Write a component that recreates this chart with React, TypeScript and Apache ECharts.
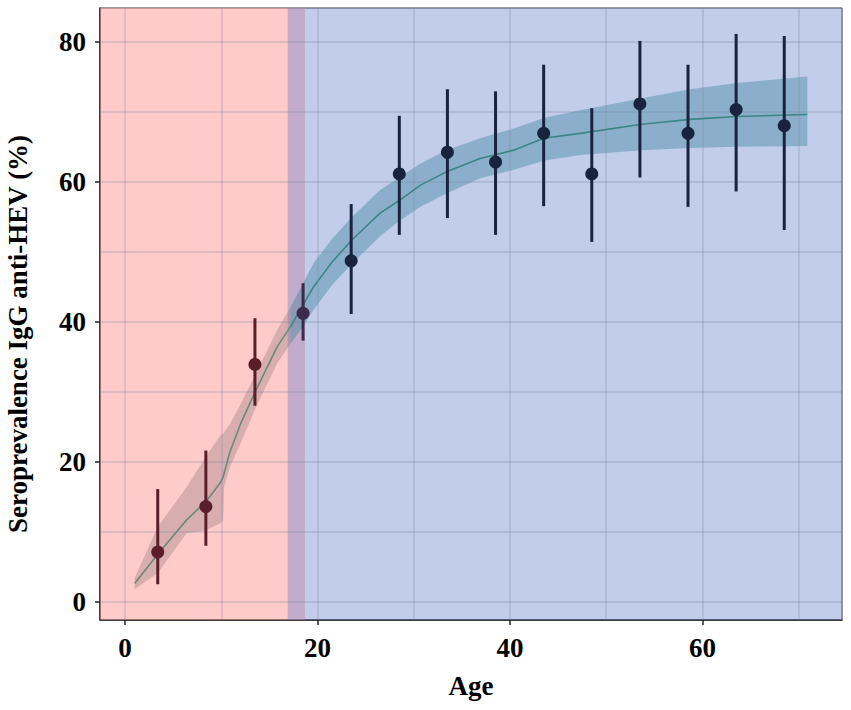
import React, { useEffect, useRef } from "react";
import * as echarts from "echarts";

// Axis ticks and grid
const xTickValues = [0, 20, 40, 60];
const yTickValues = [0, 20, 40, 60, 80];
const xGridValues = [0, 10, 20, 30, 40, 50, 60, 70];
const yGridValues = [0, 10, 20, 30, 40, 50, 60, 70, 80];
const xMin = -2.6;
const xMax = 74.5;
const yMin = -2.6;
const yMax = 84.8;

// Age periods (shaded regions)
const childEndAge = 18.7;
const adultStartAge = 16.9;

// Observed seroprevalence by age group
const groupAges = [3.4, 8.4, 13.5, 18.5, 23.5, 28.5, 33.5, 38.5, 43.5, 48.5, 53.5, 58.5, 63.5, 68.5];
const groupPrev = [7.1, 13.6, 33.9, 41.2, 48.7, 61.1, 64.2, 62.8, 66.9, 61.1, 71.1, 66.9, 70.3, 68.0];
const groupLow = [2.5, 8.0, 28.0, 37.3, 41.1, 52.4, 54.8, 52.4, 56.5, 51.4, 60.6, 56.4, 58.6, 53.1];
const groupHigh = [16.1, 21.6, 40.5, 45.5, 56.8, 69.4, 73.2, 72.9, 76.7, 70.5, 80.1, 76.7, 81.1, 80.8];

// Fitted curve with confidence band
const fitAges = [1.0, 3.4, 6.4, 8.4, 9.9, 10.2, 10.3, 10.9, 12.0, 13.6, 15.8, 17.2, 18.5, 19.6, 21.5, 23.6, 26.5, 28.6, 30.7, 33.4, 36.9, 40.4, 43.5, 47.3, 53.7, 58.7, 63.6, 70.9];
const fitValues = [2.6, 6.8, 11.7, 14.3, 17.0, 17.8, 18.4, 21.4, 25.4, 30.2, 36.4, 39.3, 42.4, 45.0, 48.5, 51.7, 55.5, 57.4, 59.5, 61.4, 63.3, 64.5, 66.2, 66.9, 68.2, 68.9, 69.3, 69.6];
const fitLow = [1.8, 4.1, 9.8, 10.2, 11.2, 11.7, 16.5, 19.2, 22.6, 27.8, 34.0, 36.9, 39.3, 41.7, 45.2, 48.3, 52.2, 54.5, 56.4, 58.3, 60.5, 61.7, 63.0, 63.8, 64.5, 64.8, 65.0, 65.1];
const fitHigh = [3.4, 10.7, 16.4, 20.7, 23.8, 24.0, 24.2, 25.4, 28.2, 32.6, 38.8, 42.1, 45.5, 48.4, 51.8, 55.0, 58.8, 60.7, 62.6, 64.5, 66.2, 67.6, 69.1, 70.2, 71.9, 73.2, 74.1, 75.0];
const splitIndex = 11; // age 17.2

const FONT = '"Liberation Serif", "Times New Roman", serif';

function pointColor(i: number) {
  const age = groupAges[i];
  if (age < adultStartAge) return "#5A1E28";
  if (age < childEndAge) return "#3E2A4A";
  return "#19233F";
}

function bandSeries(from: number, to: number, fill: string) {
  return {
    type: "custom",
    coordinateSystem: "cartesian2d",
    silent: true,
    z: 3,
    data: [[fitAges[from], fitValues[from]]],
    renderItem: (_params: any, api: any) => {
      const pts: number[][] = [];
      for (let i = from; i <= to; i++) pts.push(api.coord([fitAges[i], fitHigh[i]]));
      for (let i = to; i >= from; i--) pts.push(api.coord([fitAges[i], fitLow[i]]));
      return { type: "polygon", shape: { points: pts }, style: { fill } };
    },
  };
}

function lineSeries(from: number, to: number, color: string) {
  const data: number[][] = [];
  for (let i = from; i <= to; i++) data.push([fitAges[i], fitValues[i]]);
  return {
    type: "line",
    data,
    showSymbol: false,
    symbol: "none",
    silent: true,
    z: 4,
    lineStyle: { color, width: 1.6 },
  };
}

export default function App() {
  const ref = useRef<HTMLDivElement>(null);

  useEffect(() => {
    document.body.style.margin = "0";
    const chart = echarts.init(ref.current!, null, { renderer: "svg" });
    const labelStyle = {
      fontFamily: FONT,
      fontWeight: "bold",
      fontSize: 27,
      color: "#000",
    };
    chart.setOption({
      animation: false,
      backgroundColor: "#fff",
      grid: {
        left: 100,
        right: 9,
        top: 8,
        bottom: 90,
        show: true,
        borderColor: "#333",
        borderWidth: 1,
        backgroundColor: "transparent",
      },
      xAxis: {
        type: "value",
        min: xMin,
        max: xMax,
        name: "Age",
        nameLocation: "middle",
        nameGap: 52,
        nameTextStyle: { ...labelStyle },
        axisLine: { show: true, onZero: false, lineStyle: { color: "#222", width: 1.5 } },
        axisTick: { show: true, length: 5, customValues: xTickValues, lineStyle: { color: "#222", width: 1.5 } },
        axisLabel: { ...labelStyle, margin: 14, customValues: xTickValues },
        splitLine: { show: false },
      },
      yAxis: {
        type: "value",
        min: yMin,
        max: yMax,
        axisLine: { show: true, onZero: false, lineStyle: { color: "#222", width: 1.5 } },
        axisTick: { show: true, length: 5, customValues: yTickValues, lineStyle: { color: "#222", width: 1.5 } },
        axisLabel: { ...labelStyle, margin: 14, customValues: yTickValues },
        splitLine: { show: false },
      },
      graphic: [
        {
          type: "text",
          x: 18,
          y: 334,
          rotation: Math.PI / 2,
          style: {
            text: "Seroprevalence IgG anti-HEV (%)",
            fontFamily: FONT,
            fontWeight: "bold",
            fontSize: 27,
            fill: "#000",
            align: "center",
            verticalAlign: "middle",
          },
        },
      ],
      series: [
        {
          type: "scatter",
          data: [],
          silent: true,
          z: 1,
          markArea: {
            silent: true,
            data: [
              [
                { xAxis: xMin, itemStyle: { color: "rgba(255,150,150,0.5)" } },
                { xAxis: childEndAge },
              ],
              [
                { xAxis: adultStartAge, itemStyle: { color: "rgba(100,130,205,0.4)" } },
                { xAxis: xMax },
              ],
            ],
          },
          markLine: {
            silent: true,
            symbol: ["none", "none"],
            label: { show: false },
            lineStyle: { type: "solid", color: "rgba(120,130,160,0.25)", width: 1.8 },
            data: [
              ...xGridValues.map((v) => ({ xAxis: v })),
              ...yGridValues.map((v) => ({ yAxis: v })),
            ],
          },
        },
        bandSeries(0, splitIndex, "rgba(110,105,100,0.28)"),
        bandSeries(splitIndex, fitAges.length - 1, "rgba(40,120,140,0.35)"),
        lineSeries(0, splitIndex, "#6A8A78"),
        lineSeries(splitIndex, fitAges.length - 1, "#3A8585"),
        {
          type: "custom",
          silent: true,
          z: 5,
          data: groupAges.map((a, i) => [a, groupLow[i], groupHigh[i]]),
          encode: { x: 0, y: [1, 2] },
          renderItem: (params: any, api: any) => {
            const x = api.value(0);
            const p1 = api.coord([x, api.value(1)]);
            const p2 = api.coord([x, api.value(2)]);
            return {
              type: "line",
              shape: { x1: p1[0], y1: p1[1], x2: p2[0], y2: p2[1] },
              style: { stroke: pointColor(params.dataIndex), lineWidth: 3 },
            };
          },
        },
        {
          type: "scatter",
          silent: true,
          z: 6,
          symbolSize: 13,
          data: groupAges.map((a, i) => [a, groupPrev[i]]),
          itemStyle: { color: (p: any) => pointColor(p.dataIndex), opacity: 1 },
        },
      ],
    });
    return () => chart.dispose();
  }, []);

  return <div ref={ref} style={{ width: 851, height: 710 }} />;
}
